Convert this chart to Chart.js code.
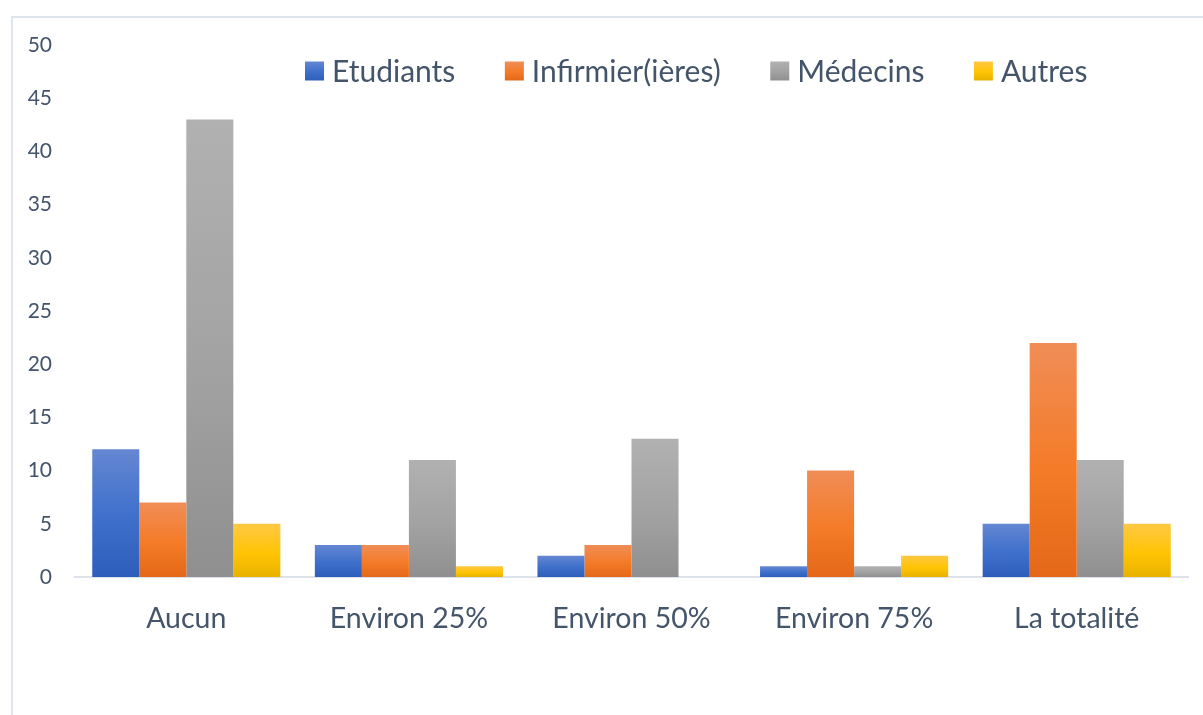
<!DOCTYPE html>
<html>
<head>
<meta charset="utf-8">
<script src="https://cdn.jsdelivr.net/npm/chart.js@4/dist/chart.umd.min.js"></script>
<style>
  html, body { margin: 0; padding: 0; background: #ffffff; overflow: hidden; }
  #frame { position: absolute; left: 11px; top: 16px; width: 1240px; height: 800px; border: 2px solid #dfe4ec; box-sizing: border-box; }
  #wrap { position: absolute; left: 0; top: 0; width: 1203px; height: 715px; }
</style>
</head>
<body>
<div id="frame"></div>
<div id="wrap"><canvas id="c" width="1203" height="715"></canvas></div>
<script>
const categories = ["Aucun", "Environ 25%", "Environ 50%", "Environ 75%", "La totalité"];
const seriesNames = ["Etudiants", "Infirmier(ières)", "Médecins", "Autres"];
const etudiants = [12, 3, 2, 1, 5];
const infirmiers = [7, 3, 3, 10, 22];
const medecins = [43, 11, 13, 1, 11];
const autres = [5, 1, 0, 2, 5];
const yTicks = [0, 5, 10, 15, 20, 25, 30, 35, 40, 45, 50];

const palettes = [
  ["#6487d2", "#3d6fcb", "#2e5ebb"],
  ["#f08d57", "#f47b27", "#e46818"],
  ["#b1b1b1", "#a2a2a2", "#8f8f8f"],
  ["#ffc845", "#ffc404", "#e7b200"]
];

function grad(ctx, top, bottom, pal) {
  const g = ctx.createLinearGradient(0, top, 0, bottom);
  g.addColorStop(0, pal[0]);
  g.addColorStop(0.55, pal[1]);
  g.addColorStop(1, pal[2]);
  return g;
}

function barFill(idx) {
  return function(context) {
    const chart = context.chart;
    const y = chart.scales && chart.scales.y;
    if (!chart.chartArea || !y || context.raw === undefined) return palettes[idx][1];
    const top = y.getPixelForValue(context.raw);
    const bottom = y.getPixelForValue(0);
    if (bottom - top < 1) return palettes[idx][1];
    return grad(chart.ctx, top, bottom, palettes[idx]);
  };
}

const FONT = "Lato, 'Open Sans', sans-serif";
const TEXT = "#44546a";

const legendPlugin = {
  id: 'customLegend',
  afterDraw(chart) {
    const ctx = chart.ctx;
    ctx.save();
    ctx.font = "30px " + FONT;
    ctx.textBaseline = "middle";
    ctx.textAlign = "left";
    const box = 19, gapText = 8, gapItem = 49.5;
    const cy = 71;
    let x = 305;
    chart.data.datasets.forEach((ds, i) => {
      ctx.fillStyle = grad(ctx, cy - box / 2, cy + box / 2, palettes[i]);
      ctx.fillRect(x, cy - box / 2, box, box);
      x += box + gapText;
      ctx.fillStyle = TEXT;
      ctx.fillText(ds.label, x, cy + 1);
      x += ctx.measureText(ds.label).width + gapItem;
    });
    ctx.restore();
  }
};

const datasets = [etudiants, infirmiers, medecins, autres].map((arr, i) => ({
  label: seriesNames[i],
  data: arr,
  backgroundColor: barFill(i),
  borderWidth: 0,
  categoryPercentage: 0.845,
  barPercentage: 1.0
}));

new Chart(document.getElementById('c'), {
  type: 'bar',
  data: { labels: categories, datasets: datasets },
  plugins: [legendPlugin],
  options: {
    responsive: false,
    animation: false,
    layout: { padding: { left: 20, right: 15, top: 45, bottom: 0 } },
    plugins: { legend: { display: false }, tooltip: { enabled: false } },
    scales: {
      x: {
        grid: { display: false, drawTicks: false },
        border: { display: true, color: "#dde2ea", width: 2 },
        ticks: { color: TEXT, font: { family: FONT, size: 28.5 }, padding: 25 },
        afterFit(scale) { scale.height = 138; }
      },
      y: {
        min: 0, max: 50,
        afterBuildTicks(scale) { scale.ticks = yTicks.map(v => ({ value: v })); },
        grid: { display: false, drawTicks: false },
        border: { display: false },
        ticks: { color: TEXT, font: { family: FONT, size: 21 }, padding: 23 },
        afterFit(scale) { scale.width = 55; }
      }
    }
  }
});
</script>
</body>
</html>
